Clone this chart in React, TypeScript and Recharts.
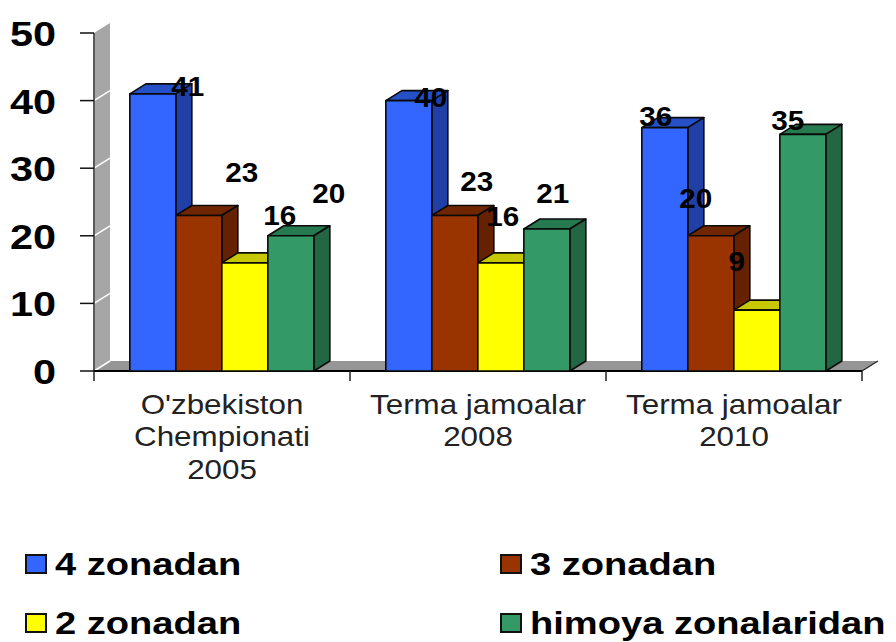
import React from "react";
import { BarChart, Bar, XAxis, YAxis, ReferenceArea, LabelList, Legend } from "recharts";

const categories = ["O'zbekiston\nChempionati\n2005", "Terma jamoalar\n2008", "Terma jamoalar\n2010"];
const zone4 = [41, 40, 36];
const zone3 = [23, 23, 20];
const zone2 = [16, 16, 9];
const defence = [20, 21, 35];
const yTicks = [0, 10, 20, 30, 40, 50];
const legendOrder = ["4 zonadan", "3 zonadan", "2 zonadan", "himoya zonalaridan"];

const rows = categories.map((category, i) => ({
  category,
  zone4: zone4[i],
  zone3: zone3[i],
  zone2: zone2[i],
  defence: defence[i],
}));

const DX = 16;
const DY = 10;
const FONT = "'Liberation Sans', Arial, sans-serif";

type Look = { front: string; top: string; side: string };
const blue: Look = { front: "#3366FF", top: "#2650C8", side: "#2040A8" };
const brown: Look = { front: "#993300", top: "#702600", side: "#662200" };
const yellow: Look = { front: "#FFFF00", top: "#C8C800", side: "#A8A800" };
const green: Look = { front: "#339966", top: "#267A50", side: "#226644" };

const labelShift4 = [[36, -8], [23, -3], [-8, -11]];
const labelShift3 = [[44, -43], [23, -34], [-14, -38]];
const labelShift2 = [[36, -48], [3, -47], [-19, -49]];
const labelShiftD = [[39, -43], [7, -36], [-14, -14]];

const box = (look: Look) => (props: any) => {
  const { x, y, width, height } = props;
  const stroke = { stroke: "#0a0a0a", strokeWidth: 1.6, strokeLinejoin: "round" as const };
  return (
    <g>
      <polygon
        points={`${x},${y} ${x + DX},${y - DY} ${x + width + DX},${y - DY} ${x + width},${y}`}
        fill={look.top}
        {...stroke}
      />
      <polygon
        points={`${x + width},${y} ${x + width + DX},${y - DY} ${x + width + DX},${y + height - DY} ${x + width},${y + height}`}
        fill={look.side}
        {...stroke}
      />
      <rect x={x} y={y} width={width} height={height} fill={look.front} {...stroke} />
    </g>
  );
};

const backdrop = (props: any) => {
  const { x, y, width, height } = props;
  const base = y + height;
  const right = x + width;
  const band = width / categories.length;
  return (
    <g>
      <polygon
        points={`${x},${y} ${x + DX},${y - DY} ${x + DX},${base - DY} ${x},${base}`}
        fill="#A6A6A6"
      />
      <polygon
        points={`${x},${base} ${x + DX},${base - DY} ${right + DX},${base - DY} ${right},${base}`}
        fill="#969696"
      />
      {yTicks.slice(0, -1).map((t) => {
        const ty = base - (height * t) / 50;
        return <line key={t} x1={x} y1={ty} x2={x + DX} y2={ty - DY} stroke="#fff" strokeWidth={1.5} />;
      })}
      <line x1={x} y1={y} x2={x} y2={base} stroke="#5a5a5a" strokeWidth={2} />
      <line x1={x} y1={base} x2={right} y2={base} stroke="#000" strokeWidth={2} />
      <line x1={right} y1={base} x2={right + DX} y2={base - DY} stroke="#222" strokeWidth={1.2} />
      {categories.concat("").map((_, i) => (
        <line key={i} x1={x + band * i} y1={base} x2={x + band * i} y2={base + 10} stroke="#222" strokeWidth={1.5} />
      ))}
    </g>
  );
};

const yTick = (props: any) => {
  const { x, y, payload } = props;
  return (
    <text
      transform={`translate(${x},${y}) scale(1.15,1)`}
      textAnchor="end"
      dy="0.36em"
      fontFamily={FONT}
      fontWeight="bold"
      fontSize={36}
      fill="#000"
    >
      {payload.value}
    </text>
  );
};

const xTick = (props: any) => {
  const { x, y, payload } = props;
  return (
    <text
      transform={`translate(${x},${y}) scale(1.1,1)`}
      textAnchor="middle"
      fontFamily={FONT}
      fontSize={28.5}
      fill="#222"
    >
      {String(payload.value)
        .split("\n")
        .map((line, i) => (
          <tspan key={i} x={0} y={i * 32.5}>
            {line}
          </tspan>
        ))}
    </text>
  );
};

const barLabel = (shift: number[][]) => (props: any) => {
  const { x, y, width, value, index } = props;
  const [dx, dy] = shift[index];
  return (
    <text
      transform={`translate(${x + width / 2 + dx - 1},${y + dy}) scale(1.1,1)`}
      dy="0.36em"
      textAnchor="middle"
      fontFamily={FONT}
      fontWeight="bold"
      fontSize={27}
      fill="#000"
    >
      {value}
    </text>
  );
};

const legendBody = (props: any) => {
  const items = [...(props.payload || [])].sort(
    (a: any, b: any) => legendOrder.indexOf(a.value) - legendOrder.indexOf(b.value)
  );
  return (
    <div
      style={{
        display: "grid",
        gridTemplateColumns: "475px 1fr",
        gridAutoRows: "59px",
        paddingLeft: 25,
        height: 112,
        boxSizing: "border-box",
        fontFamily: FONT,
      }}
    >
      {items.map((item: any) => (
        <div key={item.value} style={{ display: "flex", alignItems: "center", height: 30, marginTop: 19 }}>
          <span
            style={{
              width: 18,
              height: 16,
              background: item.payload?.fill || item.color,
              border: "2px solid #111",
              flex: "none",
              marginRight: 8,
            }}
          />
          <span
            style={{
              fontSize: 32,
              lineHeight: "30px",
              fontWeight: "bold",
              whiteSpace: "nowrap",
              color: "#000",
              display: "inline-block",
              transform: "scaleX(1.19)",
              transformOrigin: "left center",
            }}
          >
            {item.value}
          </span>
        </div>
      ))}
    </div>
  );
};

export default function App() {
  return (
    <div style={{ position: "absolute", left: 0, top: 0, width: 896, height: 642, overflow: "hidden", background: "#fff" }}>
      <BarChart
        width={896}
        height={642}
        data={rows}
        margin={{ top: 33, right: 34, bottom: 0, left: 0 }}
        barCategoryGap="14%"
        barGap={0}
      >
        <ReferenceArea y1={0} y2={50} ifOverflow="visible" shape={backdrop} />
        <XAxis
          dataKey="category"
          height={159}
          interval={0}
          axisLine={false}
          tickLine={false}
          tickMargin={37}
          tick={xTick}
        />
        <YAxis
          type="number"
          domain={[0, 50]}
          ticks={yTicks}
          width={94}
          axisLine={false}
          tickSize={14}
          tickMargin={24}
          tickLine={{ stroke: "#111", strokeWidth: 1.5 }}
          tick={yTick}
        />
        <Legend verticalAlign="bottom" height={112} content={legendBody} wrapperStyle={{ left: 0, width: 896 }} />
        <Bar dataKey="zone4" name="4 zonadan" fill={blue.front} shape={box(blue)} isAnimationActive={false}>
          <LabelList dataKey="zone4" content={barLabel(labelShift4)} />
        </Bar>
        <Bar dataKey="zone3" name="3 zonadan" fill={brown.front} shape={box(brown)} isAnimationActive={false}>
          <LabelList dataKey="zone3" content={barLabel(labelShift3)} />
        </Bar>
        <Bar dataKey="zone2" name="2 zonadan" fill={yellow.front} shape={box(yellow)} isAnimationActive={false}>
          <LabelList dataKey="zone2" content={barLabel(labelShift2)} />
        </Bar>
        <Bar dataKey="defence" name="himoya zonalaridan" fill={green.front} shape={box(green)} isAnimationActive={false}>
          <LabelList dataKey="defence" content={barLabel(labelShiftD)} />
        </Bar>
      </BarChart>
    </div>
  );
}
